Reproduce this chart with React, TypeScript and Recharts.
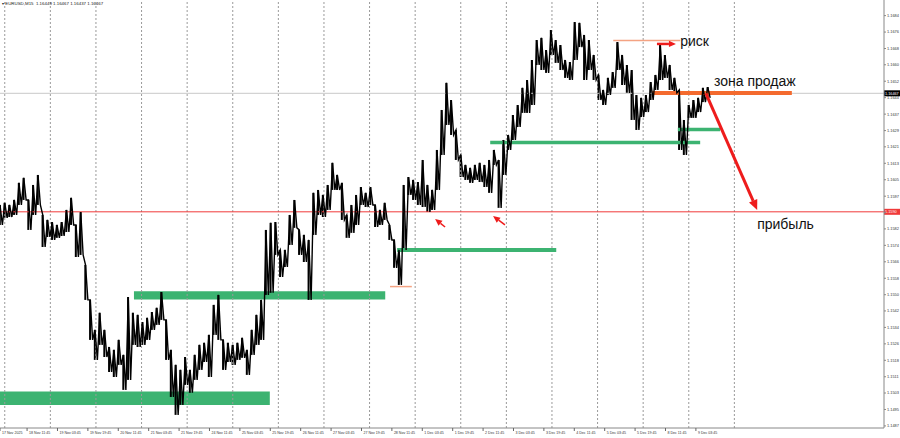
import React from "react";
import {
  ComposedChart,
  Bar,
  Line,
  XAxis,
  YAxis,
  ReferenceLine,
  ReferenceArea,
  ReferenceDot,
} from "recharts";

// EURUSD M15, one sample every 10 bars (high / low of the stretch)
const SYMBOL = "EURUSD,M15";
const OHLC = ["1.16449", "1.16467", "1.16437", "1.16467"];
const SAMPLE_STEP = 10;

const highs = [
  1.15931, 1.15941, 1.15931, 1.15955, 1.16037, 1.16061, 1.15955, 1.16027, 1.16075, 1.15883,
  1.15859, 1.15849, 1.15835, 1.15849, 1.15907, 1.15965, 1.15835, 1.15897, 1.15643, 1.15475,
  1.15331, 1.15413, 1.15331, 1.15249, 1.15235, 1.15283, 1.15211, 1.15489, 1.15413, 1.15403,
  1.15369, 1.15389, 1.15417, 1.15437, 1.15513, 1.15379, 1.15235, 1.15163, 1.15139, 1.15201,
  1.15139, 1.15211, 1.15259, 1.15269, 1.15307, 1.15451, 1.15499, 1.15283, 1.15269, 1.15259,
  1.15269, 1.15293, 1.15235, 1.15331, 1.15403, 1.15475, 1.15811, 1.15845, 1.15849, 1.15715,
  1.15715, 1.15883, 1.15955, 1.15811, 1.15787, 1.15763, 1.15989, 1.16003, 1.15979, 1.16027,
  1.16133, 1.16075, 1.16037, 1.15883, 1.15931, 1.15979, 1.16017, 1.15989, 1.16017, 1.15931,
  1.15907, 1.15941, 1.15835, 1.15763, 1.15715, 1.16027, 1.16065, 1.16051, 1.16041, 1.16147,
  1.16027, 1.16003, 1.16195, 1.16387, 1.16517, 1.16435, 1.16291, 1.16171, 1.16123, 1.16109,
  1.16123, 1.16133, 1.16123, 1.16147, 1.16195, 1.16147, 1.16243, 1.16267, 1.16363, 1.16411,
  1.16493, 1.16531, 1.16627, 1.16723, 1.16733, 1.16675, 1.16771, 1.16723, 1.16699, 1.16627,
  1.16617, 1.16809, 1.16805, 1.16747, 1.16723, 1.16651, 1.16555, 1.16483, 1.16541, 1.16569,
  1.16713, 1.16651, 1.16603, 1.16579, 1.16459, 1.16445, 1.16459, 1.16521, 1.16555, 1.16699,
  1.16651, 1.16603, 1.16541, 1.16483, 1.16339, 1.16411, 1.16435, 1.16445, 1.16493, 1.16497,
];

const lows = [
  1.15835, 1.15869, 1.15873, 1.15883, 1.15931, 1.15955, 1.15811, 1.15883, 1.15931, 1.15729,
  1.15777, 1.15763, 1.15773, 1.15782, 1.15801, 1.15835, 1.15681, 1.15691, 1.15475, 1.15283,
  1.15187, 1.15259, 1.15201, 1.15129, 1.15105, 1.15163, 1.15043, 1.15091, 1.15259, 1.15249,
  1.15259, 1.15283, 1.15331, 1.15355, 1.15379, 1.15187, 1.15009, 1.14923, 1.14971, 1.15067,
  1.15029, 1.15091, 1.15139, 1.15177, 1.15105, 1.15307, 1.15283, 1.15139, 1.15177, 1.15163,
  1.15187, 1.15197, 1.15115, 1.15211, 1.15259, 1.15283, 1.15499, 1.15509, 1.15691, 1.15585,
  1.15633, 1.15739, 1.15821, 1.15691, 1.15657, 1.15475, 1.15787, 1.15883, 1.15873, 1.15907,
  1.16003, 1.16003, 1.15859, 1.15773, 1.15797, 1.15835, 1.15931, 1.15921, 1.15931, 1.15825,
  1.15835, 1.15859, 1.15763, 1.15629, 1.15547, 1.15715, 1.15979, 1.15955, 1.15931, 1.15921,
  1.15897, 1.15907, 1.16003, 1.16171, 1.16315, 1.16267, 1.16147, 1.16065, 1.16051, 1.16037,
  1.16051, 1.16041, 1.16017, 1.15989, 1.16123, 1.15917, 1.16075, 1.16195, 1.16243, 1.16305,
  1.16373, 1.16373, 1.16411, 1.16603, 1.16579, 1.16565, 1.16651, 1.16613, 1.16579, 1.16541,
  1.16531, 1.16627, 1.16689, 1.16531, 1.16579, 1.16531, 1.16435, 1.16411, 1.16459, 1.16493,
  1.16579, 1.16507, 1.16469, 1.16339, 1.16291, 1.16353, 1.16377, 1.16435, 1.16483, 1.16531,
  1.16541, 1.16483, 1.16469, 1.16195, 1.16171, 1.16349, 1.16349, 1.16377, 1.16425, 1.16445,
];

// time axis, in M15 bars from the left edge
const xTickBars = [
  0, 57, 121, 185, 249, 313, 377, 441, 505, 569, 633, 697, 761, 825, 889, 953, 1017, 1081,
  1145, 1209, 1273, 1337, 1401, 1465,
];
const xTickLabels = [
  "17 Nov 2025", "18 Nov 11:45", "19 Nov 03:45", "19 Nov 19:45", "20 Nov 11:45", "21 Nov 03:45",
  "21 Nov 19:45", "24 Nov 11:45", "25 Nov 03:45", "25 Nov 19:45", "26 Nov 11:45", "27 Nov 03:45",
  "27 Nov 19:45", "28 Nov 11:45", "1 Dec 03:45", "1 Dec 19:45", "2 Dec 11:45", "3 Dec 03:45",
  "3 Dec 19:45", "4 Dec 11:45", "5 Dec 03:45", "5 Dec 19:45", "8 Dec 11:45", "9 Dec 03:45",
];
const daySeparators = [
  10, 106, 202, 298, 394, 490, 586, 682, 778, 874, 970, 1066, 1162, 1258, 1354, 1450, 1546,
];

const yTicks = [
  1.1684, 1.16761, 1.16682, 1.16604, 1.16525, 1.16446, 1.16367, 1.16288, 1.1621, 1.16131,
  1.16052, 1.15973, 1.15894, 1.15816, 1.15737, 1.15658, 1.15579, 1.155, 1.15422, 1.15343,
  1.15264, 1.15185, 1.15106, 1.15028, 1.14949, 1.1487,
];
// the 1.1589 label sits under the red level tag
const yTickLabels = [
  "1.1684", "1.1676", "1.1668", "1.1660", "1.1652", "1.1644", "1.1637", "1.1629", "1.1621",
  "1.1613", "1.1605", "1.1597", "", "1.1582", "1.1574", "1.1566", "1.1558", "1.1550",
  "1.1542", "1.1534", "1.1526", "1.1518", "1.1511", "1.1503", "1.1495", "1.1487",
];

const X_MAX = 1861;
const Y_MIN = 1.1486;
const Y_MAX = 1.16915;

const LAST_PRICE = 1.16467;
const LEVEL_PRICE = 1.15898;

// each sample: a high/low bar, and the trace runs high -> low inside it
const data = highs.flatMap((h, i) => [
  { bar: i * SAMPLE_STEP, range: [lows[i], h], trace: h },
  { bar: i * SAMPLE_STEP + SAMPLE_STEP / 2, trace: lows[i] },
]);

const FONT = "'Liberation Sans', Arial, sans-serif";
const GREEN = "#3cb371";
const SALMON = "#f4a383";
const ORANGE = "#f46a2e";
const RED = "#ee1c1c";
const LEVEL_RED = "#f03a3a";

const arrow = (head: number, width: number) => (p: any) => {
  const { x1, y1, x2, y2, stroke } = p;
  const a = Math.atan2(y2 - y1, x2 - x1);
  const bx = x2 - head * Math.cos(a);
  const by = y2 - head * Math.sin(a);
  const nx = -Math.sin(a) * head * 0.45;
  const ny = Math.cos(a) * head * 0.45;
  return (
    <g>
      <line x1={x1} y1={y1} x2={bx} y2={by} stroke={stroke} strokeWidth={width} />
      <polygon points={`${x2},${y2} ${bx + nx},${by + ny} ${bx - nx},${by - ny}`} fill={stroke} />
    </g>
  );
};

const axisTag = (text: string, bg: string) => (p: any) => {
  const vb = p.viewBox || {};
  const x = (vb.x || 0) + (vb.width || 0);
  const y = vb.y || 0;
  return (
    <g>
      <rect x={x} y={y - 3} width={16} height={6} fill={bg} />
      <text x={x + 1} y={y + 1.5} fontSize={3.8} fill="#fff" fontFamily={FONT}>
        {text}
      </text>
    </g>
  );
};

const XTick = (p: any) => {
  const { x, y, payload } = p;
  const label = xTickLabels[xTickBars.indexOf(payload.value)];
  return (
    <g>
      <line x1={x} y1={y} x2={x} y2={y + 3} stroke="#666" />
      <text x={x + 2} y={y + 6} fontSize={3.6} fill="#333" fontFamily={FONT}>
        {label}
      </text>
    </g>
  );
};

const note = (text: string) => ({
  value: text,
  position: "right" as const,
  offset: 0,
  fontSize: 14,
  fill: "#111",
  fontFamily: FONT,
});

export default function App() {
  return (
    <div style={{ position: "relative", width: 900, height: 438, background: "#fff" }}>
      <style>{`body{margin:0}`}</style>
      <ComposedChart
        width={900}
        height={438}
        data={data}
        margin={{ top: 0, right: 0, bottom: 0, left: 0 }}
      >
        <XAxis
          dataKey="bar"
          type="number"
          domain={[0, X_MAX]}
          ticks={xTickBars}
          interval={0}
          height={10}
          tickSize={0}
          tickMargin={0}
          tickLine={false}
          axisLine={{ stroke: "#888" }}
          tick={<XTick />}
          allowDataOverflow
        />
        <YAxis
          orientation="right"
          width={16}
          domain={[Y_MIN, Y_MAX]}
          ticks={yTicks}
          interval={0}
          tickSize={2}
          tickMargin={1}
          allowDataOverflow
          axisLine={{ stroke: "#888" }}
          tickLine={{ stroke: "#888" }}
          tick={{ fontSize: 3.9, fill: "#333", fontFamily: FONT, textAnchor: "start" }}
          tickFormatter={(v: number) => yTickLabels[yTicks.indexOf(v)]}
        />

        {daySeparators.map((b) => (
          <ReferenceLine key={b} x={b} stroke="#9a9a9a" strokeDasharray="2 2" />
        ))}

        <ReferenceLine y={LAST_PRICE} stroke="#c8c8c8" label={axisTag("1.16467", "#000")} />
        <ReferenceLine y={LEVEL_PRICE} stroke={LEVEL_RED} label={axisTag("1.1590", LEVEL_RED)} />

        <ReferenceArea x1={0} x2={568} y1={1.14971} y2={1.15035} fill={GREEN} fillOpacity={1} stroke="none" />
        <ReferenceArea x1={282} x2={811} y1={1.15477} y2={1.15517} fill={GREEN} fillOpacity={1} stroke="none" />
        <ReferenceLine segment={[{ x: 836, y: 1.15715 }, { x: 1171, y: 1.15715 }]} stroke={GREEN} strokeWidth={4} />
        <ReferenceLine segment={[{ x: 1032, y: 1.16231 }, { x: 1474, y: 1.16231 }]} stroke={GREEN} strokeWidth={3.5} />
        <ReferenceLine segment={[{ x: 1427, y: 1.16293 }, { x: 1516, y: 1.16293 }]} stroke={GREEN} strokeWidth={3.5} />
        <ReferenceLine segment={[{ x: 821, y: 1.15539 }, { x: 867, y: 1.15539 }]} stroke={SALMON} strokeWidth={1.5} />
        <ReferenceLine segment={[{ x: 1291, y: 1.1672 }, { x: 1432, y: 1.1672 }]} stroke={SALMON} strokeWidth={1.5} />
        <ReferenceLine segment={[{ x: 1373, y: 1.16469 }, { x: 1667, y: 1.16469 }]} stroke={ORANGE} strokeWidth={4} />

        <Bar dataKey="range" fill="#000" barSize={2} isAnimationActive={false} />
        <Line
          dataKey="trace"
          type="linear"
          stroke="#000"
          strokeWidth={1.4}
          dot={false}
          activeDot={false}
          isAnimationActive={false}
        />

        <ReferenceLine
          segment={[{ x: 1383, y: 1.16704 }, { x: 1423, y: 1.16704 }]}
          stroke={RED}
          shape={arrow(7, 2.5)}
        />
        <ReferenceLine
          segment={[{ x: 1486, y: 1.16467 }, { x: 1594, y: 1.15907 }]}
          stroke={RED}
          shape={arrow(10, 3)}
        />
        <ReferenceLine
          segment={[{ x: 937, y: 1.15825 }, { x: 916, y: 1.15864 }]}
          stroke={RED}
          shape={arrow(7, 1.5)}
        />
        <ReferenceLine
          segment={[{ x: 1063, y: 1.15835 }, { x: 1038, y: 1.15878 }]}
          stroke={RED}
          shape={arrow(7, 1.5)}
        />

        <ReferenceDot x={1432} y={1.16716} r={0} stroke="none" label={note("риск")} />
        <ReferenceDot x={1503} y={1.16526} r={0} stroke="none" label={note("зона продаж")} />
        <ReferenceDot x={1594} y={1.1584} r={0} stroke="none" label={note("прибыль")} />
      </ComposedChart>
      <div
        style={{
          position: "absolute",
          left: 2,
          top: 0,
          fontSize: 4.4,
          lineHeight: "8px",
          fontFamily: FONT,
          color: "#222",
          whiteSpace: "pre",
        }}
      >
        {`▾ ${SYMBOL}  ${OHLC.join(" ")}`}
      </div>
    </div>
  );
}
